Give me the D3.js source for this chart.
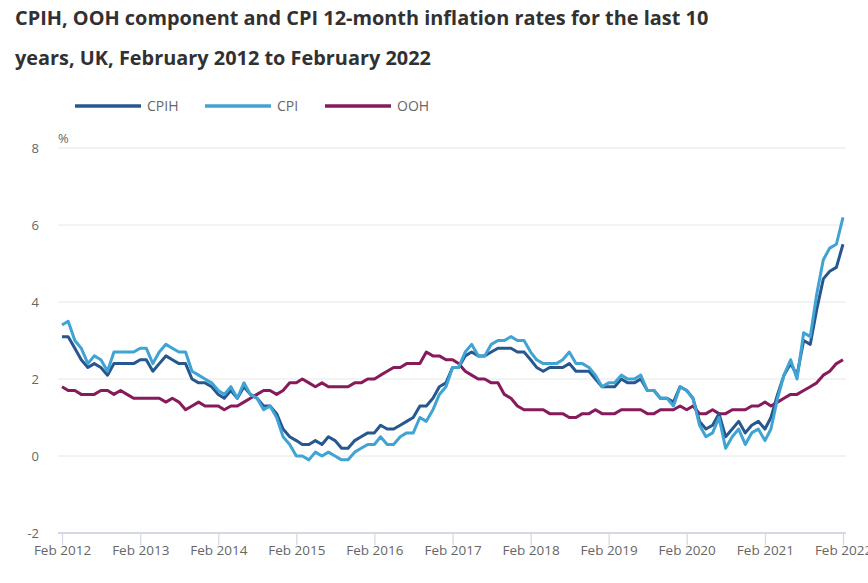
<!DOCTYPE html>
<html><head><meta charset="utf-8">
<script src="https://cdn.jsdelivr.net/npm/d3@7"></script>
<style>body{margin:0;background:#fff;}svg{display:block;font-family:"Open Sans",sans-serif;}</style>
</head><body>
<svg id="c" width="868" height="583"></svg>
<script>
const titleLines = ["CPIH, OOH component and CPI 12-month inflation rates for the last 10","years, UK, February 2012 to February 2022"];
const startMonth = "2012-02";
const cpih = [3.1,3.1,2.8,2.5,2.3,2.4,2.3,2.1,2.4,2.4,2.4,
 2.4,2.5,2.5,2.2,2.4,2.6,2.5,2.4,2.4,2.0,1.9,1.9,
 1.8,1.6,1.5,1.7,1.5,1.8,1.6,1.5,1.3,1.3,1.1,0.7,
 0.5,0.4,0.3,0.3,0.4,0.3,0.5,0.4,0.2,0.2,0.4,0.5,
 0.6,0.6,0.8,0.7,0.7,0.8,0.9,1.0,1.3,1.3,1.5,1.8,
 1.9,2.3,2.3,2.6,2.7,2.6,2.6,2.7,2.8,2.8,2.8,2.7,
 2.7,2.5,2.3,2.2,2.3,2.3,2.3,2.4,2.2,2.2,2.2,2.0,
 1.8,1.8,1.8,2.0,1.9,1.9,2.0,1.7,1.7,1.5,1.5,1.4,
 1.8,1.7,1.5,0.9,0.7,0.8,1.1,0.5,0.7,0.9,0.6,0.8,
 0.9,0.7,1.0,1.6,2.1,2.4,2.1,3.0,2.9,3.8,4.6,4.8,
 4.9,5.5];
const cpi = [3.4,3.5,3.0,2.8,2.4,2.6,2.5,2.2,2.7,2.7,2.7,
 2.7,2.8,2.8,2.4,2.7,2.9,2.8,2.7,2.7,2.2,2.1,2.0,
 1.9,1.7,1.6,1.8,1.5,1.9,1.6,1.5,1.2,1.3,1.0,0.5,
 0.3,0.0,0.0,-0.1,0.1,0.0,0.1,0.0,-0.1,-0.1,0.1,0.2,
 0.3,0.3,0.5,0.3,0.3,0.5,0.6,0.6,1.0,0.9,1.2,1.6,
 1.8,2.3,2.3,2.7,2.9,2.6,2.6,2.9,3.0,3.0,3.1,3.0,
 3.0,2.7,2.5,2.4,2.4,2.4,2.5,2.7,2.4,2.4,2.3,2.1,
 1.8,1.9,1.9,2.1,2.0,2.0,2.1,1.7,1.7,1.5,1.5,1.3,
 1.8,1.7,1.5,0.8,0.5,0.6,1.0,0.2,0.5,0.7,0.3,0.6,
 0.7,0.4,0.7,1.5,2.1,2.5,2.0,3.2,3.1,4.2,5.1,5.4,
 5.5,6.2];
const ooh = [1.8,1.7,1.7,1.6,1.6,1.6,1.7,1.7,1.6,1.7,1.6,
 1.5,1.5,1.5,1.5,1.5,1.4,1.5,1.4,1.2,1.3,1.4,1.3,
 1.3,1.3,1.2,1.3,1.3,1.4,1.5,1.6,1.7,1.7,1.6,1.7,
 1.9,1.9,2.0,1.9,1.8,1.9,1.8,1.8,1.8,1.8,1.9,1.9,
 2.0,2.0,2.1,2.2,2.3,2.3,2.4,2.4,2.4,2.7,2.6,2.6,
 2.5,2.5,2.4,2.2,2.1,2.0,2.0,1.9,1.9,1.6,1.5,1.3,
 1.2,1.2,1.2,1.2,1.1,1.1,1.1,1.0,1.0,1.1,1.1,1.2,
 1.1,1.1,1.1,1.2,1.2,1.2,1.2,1.1,1.1,1.2,1.2,1.2,
 1.3,1.2,1.3,1.1,1.1,1.2,1.1,1.1,1.2,1.2,1.2,1.3,
 1.3,1.4,1.3,1.4,1.5,1.6,1.6,1.7,1.8,1.9,2.1,2.2,
 2.4,2.5];
const yTicks = [-2,0,2,4,6,8];
const xTickYears = [2012,2013,2014,2015,2016,2017,2018,2019,2020,2021,2022];
const seriesNames = ["CPIH","CPI","OOH"];
const colors = {CPIH:"#27578f", CPI:"#3fa3d3", OOH:"#871a5b"};

const svg = d3.select("#c");
const t0 = d3.timeParse("%Y-%m")(startMonth);
const dates = cpih.map((d,i)=>d3.timeMonth.offset(t0,i));
const x = d3.scaleTime().domain([t0, dates[dates.length-1]]).range([62,843]);
const y = d3.scaleLinear().domain([-2,8]).range([533,148]);

// title
svg.append("g").selectAll("text").data(titleLines).join("text")
  .attr("x",15).attr("y",(d,i)=>25+i*40)
  .attr("font-size",19.9).attr("font-weight",700).attr("fill","#323132")
  .text(d=>d);

// legend
const leg = svg.append("g");
const legX = [75,205,325];
seriesNames.forEach((s,i)=>{
  leg.append("line").attr("x1",legX[i]).attr("x2",legX[i]+66).attr("y1",106).attr("y2",106)
    .attr("stroke",colors[s]).attr("stroke-width",3.5);
  leg.append("text").attr("x",legX[i]+72).attr("y",111).attr("font-size",14).attr("fill","#666").text(s);
});

// grid + y labels
const yg = svg.append("g");
yTicks.filter(v=>v!==-2).forEach(v=>{
  yg.append("line").attr("x1",58).attr("x2",846).attr("y1",y(v)).attr("y2",y(v))
    .attr("stroke","#e6e6e6").attr("stroke-width",1);
});
yTicks.forEach(v=>{
  yg.append("text").attr("x",39).attr("y",y(v)+5).attr("text-anchor","end")
    .attr("font-size",13).attr("fill","#666").text(v);
});
svg.append("text").attr("x",58).attr("y",143).attr("font-size",13).attr("fill","#666").text("%");

// x axis
const xa = d3.axisBottom(x)
  .tickValues(xTickYears.map(yr=>new Date(yr,1,1)))
  .tickFormat(d3.timeFormat("Feb %Y")).tickSize(12).tickSizeOuter(0);
const gx = svg.append("g").attr("transform","translate(0,533)").call(xa);
gx.select(".domain").attr("stroke","#d3d7e6").attr("stroke-width",2).attr("d","M58,0H846");
gx.selectAll(".tick line").attr("stroke","#d3d7e6").attr("stroke-width",1.2);
gx.selectAll(".tick text").attr("font-size",13.5).attr("fill","#666").attr("font-family","Open Sans, sans-serif").attr("y",12).attr("dy","0.71em");

// lines
const line = d3.line().x((d,i)=>x(dates[i])).y(d=>y(d));
[["OOH",ooh],["CPIH",cpih],["CPI",cpi]].forEach(([n,arr])=>{
  svg.append("path").datum(arr).attr("d",line).attr("fill","none")
    .attr("stroke",colors[n]).attr("stroke-width",3).attr("stroke-linejoin","round");
});
</script>
</body></html>
